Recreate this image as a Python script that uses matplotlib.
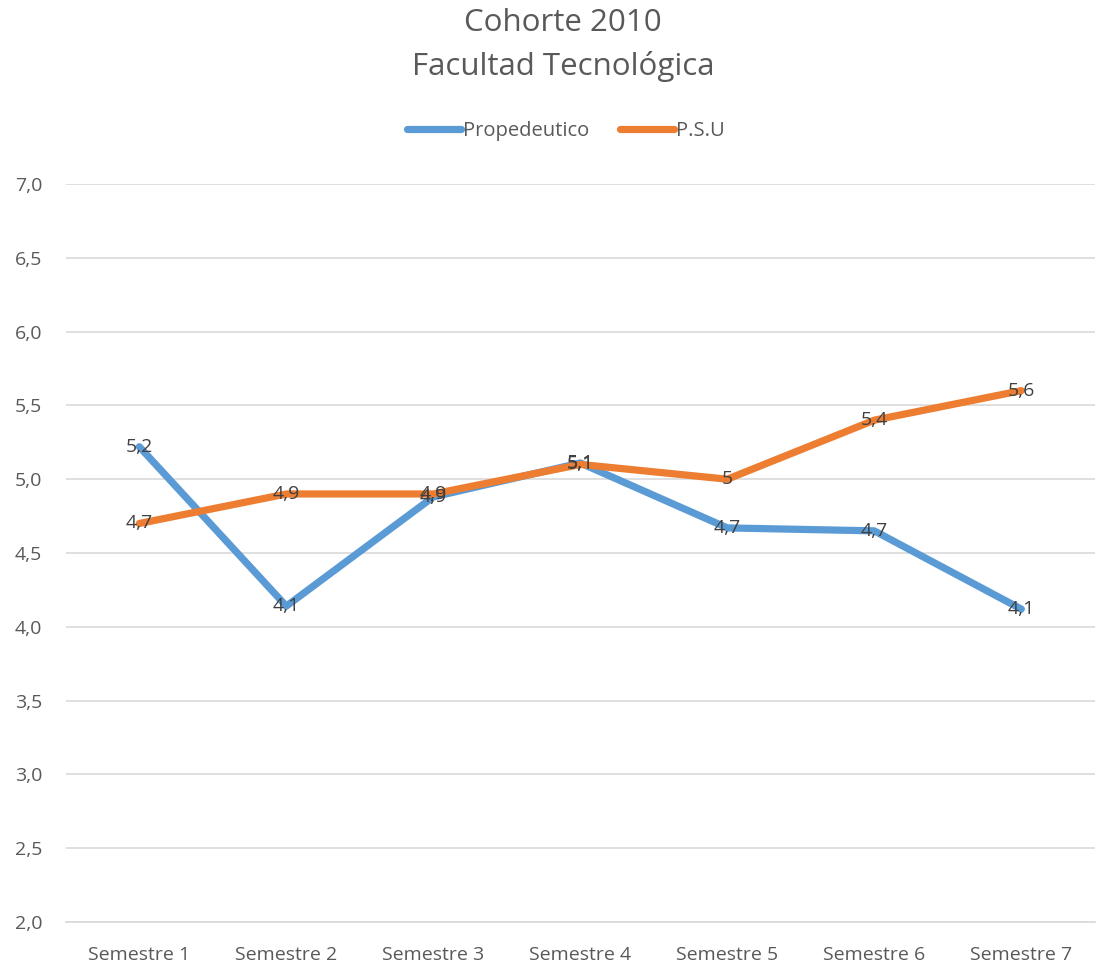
import matplotlib
matplotlib.use("Agg")
import matplotlib.pyplot as plt

categories = ["Semestre 1", "Semestre 2", "Semestre 3", "Semestre 4", "Semestre 5", "Semestre 6", "Semestre 7"]
propedeutico = [5.22, 4.14, 4.88, 5.11, 4.67, 4.65, 4.12]
psu = [4.7, 4.9, 4.9, 5.1, 5.0, 5.4, 5.6]
yticks = [2.0, 2.5, 3.0, 3.5, 4.0, 4.5, 5.0, 5.5, 6.0, 6.5, 7.0]

plt.rcParams['font.family'] = ['Open Sans', 'DejaVu Sans']

fig = plt.figure(figsize=(10.97, 9.65), dpi=100)
ax = fig.add_axes([0.060, 0.0446, 0.938, 0.7647])

x = list(range(len(categories)))
blue = "#5B9BD5"
orange = "#ED7D31"
ax.plot(x, propedeutico, color=blue, lw=5.2, solid_capstyle="round", solid_joinstyle="round", label="Propedeutico", zorder=3)
ax.plot(x, psu, color=orange, lw=5.2, solid_capstyle="round", solid_joinstyle="round", label="P.S.U", zorder=4)

def fmt(v):
    r = round(v, 1)
    if abs(r - round(r)) < 1e-9:
        return str(int(round(r)))
    return f"{r:.1f}".replace(".", ",")

for xi, v in zip(x, propedeutico):
    ax.text(xi, v, fmt(v), ha="center", va="center", fontsize=14, color="#404040", zorder=5)
for xi, v in zip(x, psu):
    ax.text(xi, v, fmt(v), ha="center", va="center", fontsize=14, color="#404040", zorder=5)

ax.set_xlim(-0.5, len(categories) - 0.5)
ax.set_ylim(2.0, 7.0)
ax.set_yticks(yticks)
ax.set_yticklabels([f"{t:.1f}".replace(".", ",") for t in yticks])
ax.set_xticks(x)
ax.set_xticklabels(categories)
ax.tick_params(axis="both", length=0, labelsize=14, labelcolor="#595959")
ax.tick_params(axis="x", pad=17)
ax.tick_params(axis="y", pad=17)
ax.grid(axis="y", color="#D9D9D9", lw=1.2)
ax.set_axisbelow(True)
for s in ["top", "right", "left"]:
    ax.spines[s].set_visible(False)
ax.spines["bottom"].set_color("#D9D9D9")
ax.spines["bottom"].set_linewidth(1.2)

fig.text(0.513, 0.953, "Cohorte 2010\nFacultad Tecnológica", ha="center", va="center",
         fontsize=22.5, color="#595959", linespacing=1.55)

leg = fig.legend(loc="center", bbox_to_anchor=(0.516, 0.864), ncol=2, frameon=False,
                 fontsize=14.5, handlelength=2.7, handletextpad=0.1, columnspacing=1.5)
for t in leg.get_texts():
    t.set_color("#595959")

fig.savefig("out.png", dpi=100)
